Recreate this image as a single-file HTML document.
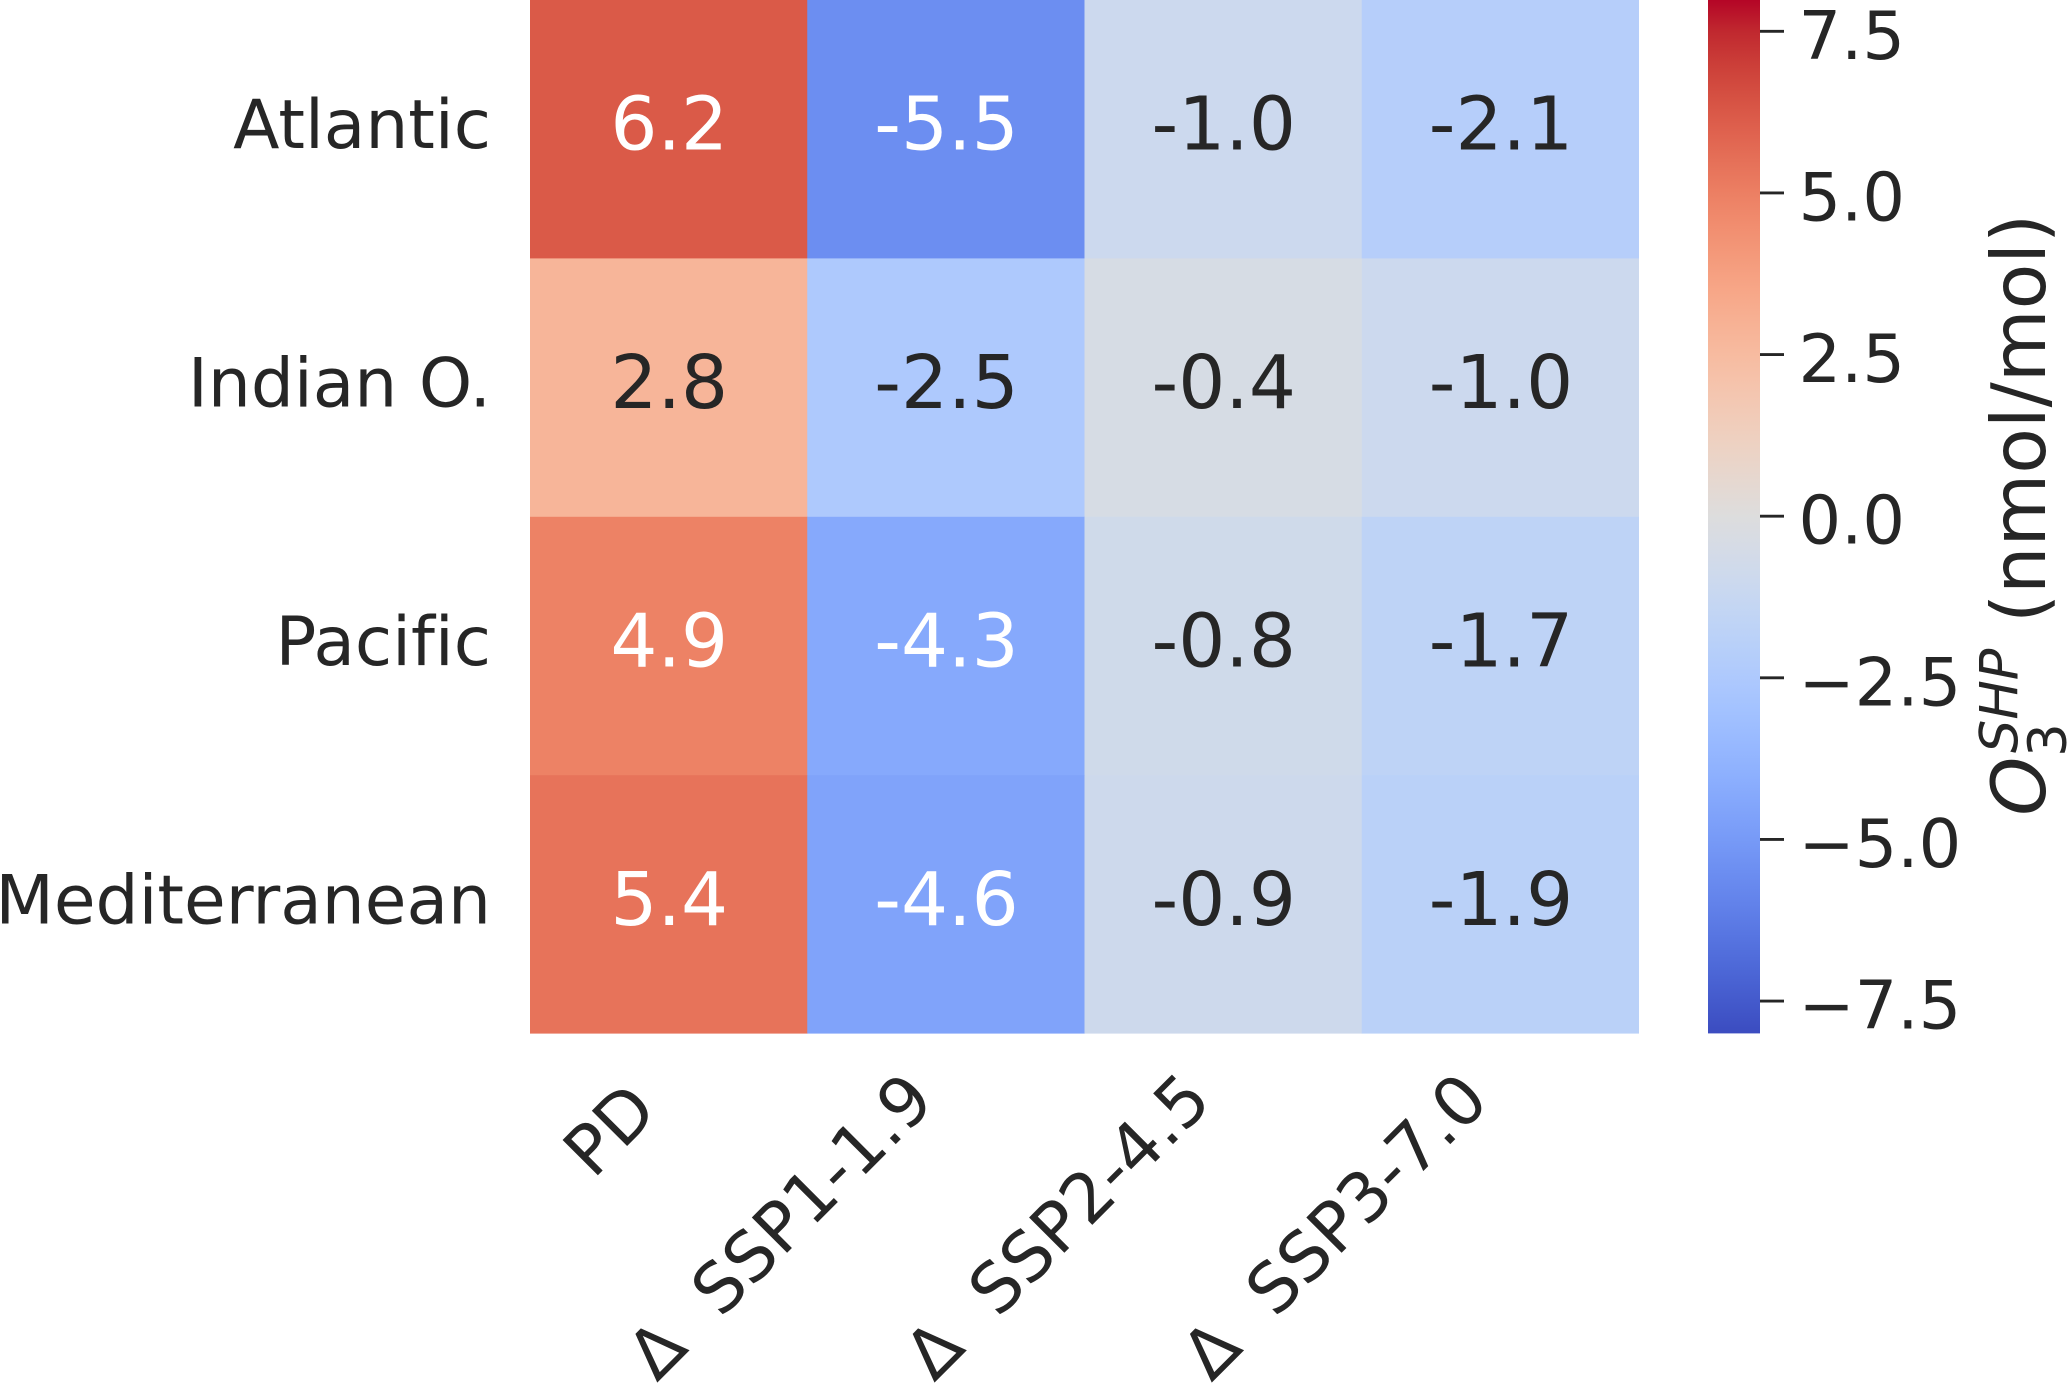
<!DOCTYPE html>
<html lang="en">
<head>
<meta charset="utf-8">
<title>Ozone heatmap by ocean region</title>
<style>
html,body{margin:0;padding:0;background:#fff;}
body{width:2067px;height:1385px;overflow:hidden;}
svg{display:block;}
text{font-family:"DejaVu Sans","Liberation Sans",sans-serif;fill:#262626;font-variant-ligatures:none;}
</style>
</head>
<body>
<svg id="chart" xmlns="http://www.w3.org/2000/svg" width="2067" height="1385" viewBox="0 0 2067 1385">
  <rect x="0" y="0" width="2067" height="1385" fill="#ffffff"/>
  <g id="cells"></g>
  <g id="ylabels"></g>
  <g id="xlabels"></g>
  <g id="cbar"></g>
  <text transform="translate(2045 815.7) rotate(-90)" font-size="75"><tspan x="0" y="0" font-style="italic">O</tspan><tspan x="59" y="21" font-size="52.5">3</tspan><tspan x="62.7" y="-27.5" font-size="52.5" font-style="italic">SHP</tspan><tspan x="192.7" y="0" font-size="74.7">(nmol/mol)</tspan></text>
</svg>
<script>
const regions = ['Atlantic', 'Indian O.', 'Pacific', 'Mediterranean'];
const scenarios = ['PD', 'Δ\u00a0\u00a0SSP1-1.9', 'Δ\u00a0\u00a0SSP2-4.5', 'Δ\u00a0\u00a0SSP3-7.0'];
const atlanticValues = [6.2, -5.5, -1.0, -2.1];
const indianValues = [2.8, -2.5, -0.4, -1.0];
const pacificValues = [4.9, -4.3, -0.8, -1.7];
const mediterraneanValues = [5.4, -4.6, -0.9, -1.9];
const seriesValues = [atlanticValues, indianValues, pacificValues, mediterraneanValues];
const colorbarTicks = [7.5, 5.0, 2.5, 0.0, -2.5, -5.0, -7.5];
const colorMin = -8;
const colorMax = 8;

const coolwarmRed = [.2298,.2662,.3039,.3428,.3830,.4244,.4667,.5096,.5530,.5963,.6392,.6813,.7222,.7615,.7987,.8335,.8654,.8978,.9241,.9445,.9589,.9673,.9700,.9668,.9580,.9437,.9239,.8990,.8692,.8346,.7956,.7525,.7057];
const coolwarmGreen = [.2987,.3531,.4065,.4588,.5094,.5581,.6046,.6483,.6889,.7261,.7596,.7890,.8140,.8343,.8498,.8602,.8654,.8489,.8274,.8009,.7698,.7341,.6943,.6504,.6028,.5518,.4973,.4396,.3783,.3129,.2413,.1572,.0156];
const coolwarmBlue = [.7537,.8015,.8450,.8837,.9174,.9456,.9682,.9848,.9954,.9998,.9982,.9904,.9766,.9569,.9317,.9011,.8654,.8209,.7745,.7267,.6780,.6288,.5794,.5303,.4818,.4342,.3880,.3432,.3003,.2593,.2205,.1841,.1502];

const NS = 'http://www.w3.org/2000/svg';
const plotLeft = 530, plotRight = 1639, plotTop = 0, plotBottom = 1033.6;
const cbarLeft = 1708, cbarRight = 1760, cbarTop = -1, cbarBottom = 1033.4;
const cellW = (plotRight - plotLeft) / scenarios.length;
const cellH = (plotBottom - plotTop) / regions.length;

function xScale(i) { return plotLeft + i * cellW; }
function yScale(i) { return plotTop + i * cellH; }
function cbarScale(v) { return cbarBottom - (v - colorMin) / (colorMax - colorMin) * (cbarBottom - cbarTop); }

function colorRgb(t) {
  t = Math.max(0, Math.min(1, t));
  const n = coolwarmRed.length - 1;
  const p = t * n;
  const i = Math.min(n - 1, Math.floor(p));
  const f = p - i;
  return [coolwarmRed, coolwarmGreen, coolwarmBlue].map(function (ch) {
    return (ch[i] + (ch[i + 1] - ch[i]) * f) * 255;
  });
}
function valueRgb(v) { return colorRgb((v - colorMin) / (colorMax - colorMin)); }
function css(c) { return 'rgb(' + c.map(Math.round).join(',') + ')'; }
function luminance(c) {
  const l = c.map(function (x) {
    const s = x / 255;
    return s <= 0.03928 ? s / 12.92 : Math.pow((s + 0.055) / 1.055, 2.4);
  });
  return 0.2126 * l[0] + 0.7152 * l[1] + 0.0722 * l[2];
}
function make(tag, attrs, parent) {
  const el = document.createElementNS(NS, tag);
  Object.keys(attrs).forEach(function (k) { el.setAttribute(k, attrs[k]); });
  parent.appendChild(el);
  return el;
}

const cellsG = document.getElementById('cells');
const yG = document.getElementById('ylabels');
const xG = document.getElementById('xlabels');
const cbarG = document.getElementById('cbar');

seriesValues.forEach(function (row, r) {
  row.forEach(function (v, c) {
    const rgb = valueRgb(v);
    const overlapW = c < row.length - 1 ? 0.4 : 0;
    const overlapH = r < seriesValues.length - 1 ? 0.4 : 0;
    const rect = make('rect', { x: xScale(c), y: yScale(r), width: cellW + overlapW, height: cellH + overlapH, fill: css(rgb) }, cellsG);
    
    
    const t = make('text', { x: xScale(c) + cellW / 2 + 0.6, y: yScale(r) + cellH / 2 + 20.5, 'text-anchor': 'middle', 'font-size': 74 }, cellsG);
    t.style.fill = luminance(rgb) > 0.408 ? '#262626' : '#ffffff';
    t.textContent = v.toFixed(1);
    
    
  });
});

regions.forEach(function (name, r) {
  const t = make('text', { x: 491, y: yScale(r) + cellH / 2 + 19, 'text-anchor': 'end', 'font-size': 67.8 }, yG);
  t.textContent = name;
  
  
});

scenarios.forEach(function (name, c) {
  const ax = xScale(c) + cellW / 2 - 9;
  const ay = name.indexOf('Δ') === 0 ? 1103 : 1113.5;
  const t = make('text', { transform: 'translate(' + ax + ' ' + ay + ') rotate(-45)', 'text-anchor': 'end', 'font-size': 68.5 }, xG);
  t.textContent = name;
  
  
});

const defs = make('defs', {}, cbarG);
const grad = make('linearGradient', { id: 'coolwarm', x1: 0, y1: 1, x2: 0, y2: 0 }, defs);
coolwarmRed.forEach(function (_, i) {
  const t = i / (coolwarmRed.length - 1);
  make('stop', { offset: t, 'stop-color': css(colorRgb(t)) }, grad);
});
const bar = make('rect', { x: cbarLeft, y: cbarTop, width: cbarRight - cbarLeft, height: cbarBottom - cbarTop, fill: 'url(#coolwarm)' }, cbarG);



colorbarTicks.forEach(function (v) {
  const y = cbarScale(v);
  const tick = make('line', { x1: cbarRight, x2: cbarRight + 24, y1: y, y2: y, stroke: '#262626', 'stroke-width': 2.8 }, cbarG);
  
  
  const t = make('text', { x: 1798.5, y: y + 27.5, 'font-size': 67 }, cbarG);
  t.textContent = (v < 0 ? '\u2212' : '') + Math.abs(v).toFixed(1);
  
  
});
</script>
</body>
</html>
